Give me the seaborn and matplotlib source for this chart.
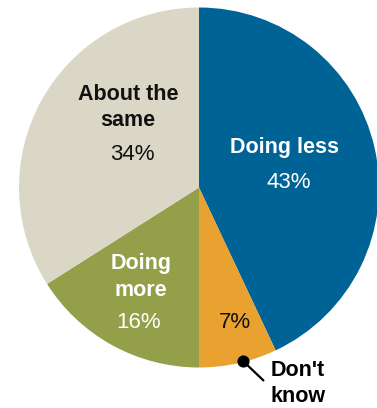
import matplotlib
matplotlib.use("Agg")
import matplotlib.pyplot as plt
import seaborn as sns

categories = ["Doing less", "Don't know", "Doing more", "About the same"]
shares = [43, 7, 16, 34]
label_lines = [["Doing less"], [], ["Doing", "more"], ["About the", "same"]]
colors = ["#006396", "#E9A12F", "#949F4A", "#DAD7C7"]
text_colors = ["white", "#111111", "white", "#111111"]

sns.set_theme(style="white")
plt.rcParams["font.family"] = ["Liberation Sans", "DejaVu Sans"]

W, H = 377, 408
fig = plt.figure(figsize=(W / 100, H / 100), dpi=100)
ax = fig.add_axes([0, 0, 1, 1])


def py(y):
    """Convert a top-down pixel row into the axes' bottom-up coordinate."""
    return H - y


cx, cy, R = 199, 187.5, 180
wedges, _ = ax.pie(shares, colors=colors, startangle=90, counterclock=False,
                   center=(cx, py(cy)), radius=R, frame=True,
                   wedgeprops=dict(linewidth=0))
ax.set_xlim(0, W)
ax.set_ylim(0, H)
ax.set_aspect("equal")
ax.axis("off")

fs_label = 15.5
fs_pct = 16
# label anchors (first line) and percent positions, in pixels from the top-left
label_pos = {
    "Doing less": ((285, 148), (289, 183)),
    "Doing more": ((141, 263), (139, 323)),
    "About the same": ((128, 94), (132, 155)),
}
line_gap = 27
for cat, val, lines, tc in zip(categories, shares, label_lines, text_colors):
    if cat == "Don't know":
        ax.text(235, py(323), f"{val}%", ha="center", va="center",
                fontsize=fs_pct, color=tc)
        continue
    (lx, ly), (px, pyy) = label_pos[cat]
    for i, ln in enumerate(lines):
        ax.text(lx, py(ly + i * line_gap), ln, ha="center", va="center",
                fontsize=fs_label, fontweight="bold", color=tc)
    ax.text(px, py(pyy), f"{val}%", ha="center", va="center",
            fontsize=fs_pct, color=tc)

# callout for the small slice
ax.plot([243, 264], [py(361), py(381)], color="black", lw=1.6, solid_capstyle="butt")
ax.scatter([243], [py(361)], s=60, color="black", zorder=5)
ax.text(298, py(370), "Don't", ha="center", va="center", fontsize=fs_label,
        fontweight="bold", color="black")
ax.text(298, py(397), "know", ha="center", va="center", fontsize=fs_label,
        fontweight="bold", color="black")

fig.savefig("out.png", dpi=100)
